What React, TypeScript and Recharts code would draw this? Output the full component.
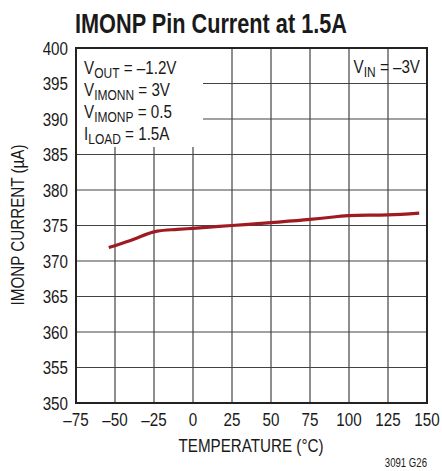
import { LineChart, Line, XAxis, YAxis, CartesianGrid } from 'recharts';

const temperatures = [-54, -40, -23, -10, 0, 25, 50, 75, 90, 100, 125, 145];
const imonpCurrent = [371.9, 372.9, 374.2, 374.45, 374.6, 375.0, 375.4, 375.85, 376.2, 376.4, 376.5, 376.75];
const xTicks = [-75, -50, -25, 0, 25, 50, 75, 100, 125, 150];
const yTicks = [350, 355, 360, 365, 370, 375, 380, 385, 390, 395, 400];

const data = temperatures.map((t, i) => ({ temp: t, current: imonpCurrent[i] }));

const FONT = "'Liberation Sans', Arial, sans-serif";
const INK = '#1a1a1a';
const SQUEEZE = 0.8; // reference uses a condensed helvetica

const fmt = (v: number) => (v < 0 ? `\u2013${Math.abs(v)}` : `${v}`);

const XTick = ({ x, y, payload }: any) => (
  <text
    transform={`translate(${x},${y}) scale(${SQUEEZE},1)`}
    textAnchor="middle"
    dy="0.71em"
    fontSize={19}
    fontFamily={FONT}
    fill={INK}
  >
    {fmt(payload.value)}
  </text>
);

const YTick = ({ x, y, payload }: any) => (
  <text
    transform={`translate(${x},${y}) scale(${SQUEEZE},1)`}
    textAnchor="end"
    dy="0.35em"
    fontSize={19}
    fontFamily={FONT}
    fill={INK}
  >
    {payload.value}
  </text>
);

// narrow text at a point, used for labels and the condition notes
const N = ({ x, y, anchor = 'start', size = 19, rotate = 0, children }: any) => (
  <text
    transform={`translate(${x},${y}) rotate(${rotate}) scale(${SQUEEZE},1)`}
    textAnchor={anchor}
    fontSize={size}
  >
    {children}
  </text>
);

const App = () => {
  return (
    <div style={{ position: 'absolute', top: 0, left: 0, width: 442, height: 471, background: '#fff' }}>
      <LineChart
        width={442}
        height={471}
        data={data}
        margin={{ top: 48, right: 15, left: 0, bottom: 0 }}
      >
        <CartesianGrid stroke="#444" strokeWidth={1.2} horizontalValues={yTicks} verticalValues={xTicks} />
        <XAxis
          type="number"
          dataKey="temp"
          domain={[-75, 150]}
          ticks={xTicks}
          tickLine={false}
          tickSize={0}
          tickMargin={10}
          axisLine={false}
          tick={<XTick />}
          height={68}
        />
        <YAxis
          type="number"
          domain={[350, 400]}
          ticks={yTicks}
          tickLine={false}
          tickSize={0}
          tickMargin={8}
          axisLine={false}
          tick={<YTick />}
          width={76}
        />
        <Line
          type="monotone"
          dataKey="current"
          stroke="#9e1b22"
          strokeWidth={3.2}
          dot={false}
          isAnimationActive={false}
        />
      </LineChart>
      <svg
        width={442}
        height={471}
        style={{ position: 'absolute', top: 0, left: 0, pointerEvents: 'none' }}
        fontFamily={FONT}
        fill={INK}
      >
        {/* annotation box hides the grid behind the conditions */}
        <rect x={77} y={49} width={126} height={98} fill="#fff" />
        <rect x={76} y={48} width={351} height={355} fill="none" stroke="#222" strokeWidth={2} />
        <text x={75} y={33} fontSize={28} fontWeight="bold" textLength={272} lengthAdjust="spacingAndGlyphs">
          IMONP Pin Current at 1.5A
        </text>
        <N x={84} y={74}>
          V<tspan fontSize={15} dy={4}>OUT</tspan><tspan dy={-4}> = –1.2V</tspan>
        </N>
        <N x={84} y={96}>
          V<tspan fontSize={15} dy={4}>IMONN</tspan><tspan dy={-4}> = 3V</tspan>
        </N>
        <N x={84} y={118}>
          V<tspan fontSize={15} dy={4}>IMONP</tspan><tspan dy={-4}> = 0.5</tspan>
        </N>
        <N x={84} y={140}>
          I<tspan fontSize={15} dy={4}>LOAD</tspan><tspan dy={-4}> = 1.5A</tspan>
        </N>
        <N x={420} y={73} anchor="end">
          V<tspan fontSize={15} dy={4}>IN</tspan><tspan dy={-4}> = –3V</tspan>
        </N>
        <N x={251} y={452} anchor="middle">TEMPERATURE (°C)</N>
        <N x={24} y={225} anchor="middle" rotate={-90}>IMONP CURRENT (µA)</N>
        <N x={427} y={467} anchor="end" size={12}>3091 G26</N>
      </svg>
    </div>
  );
};

export default App;
